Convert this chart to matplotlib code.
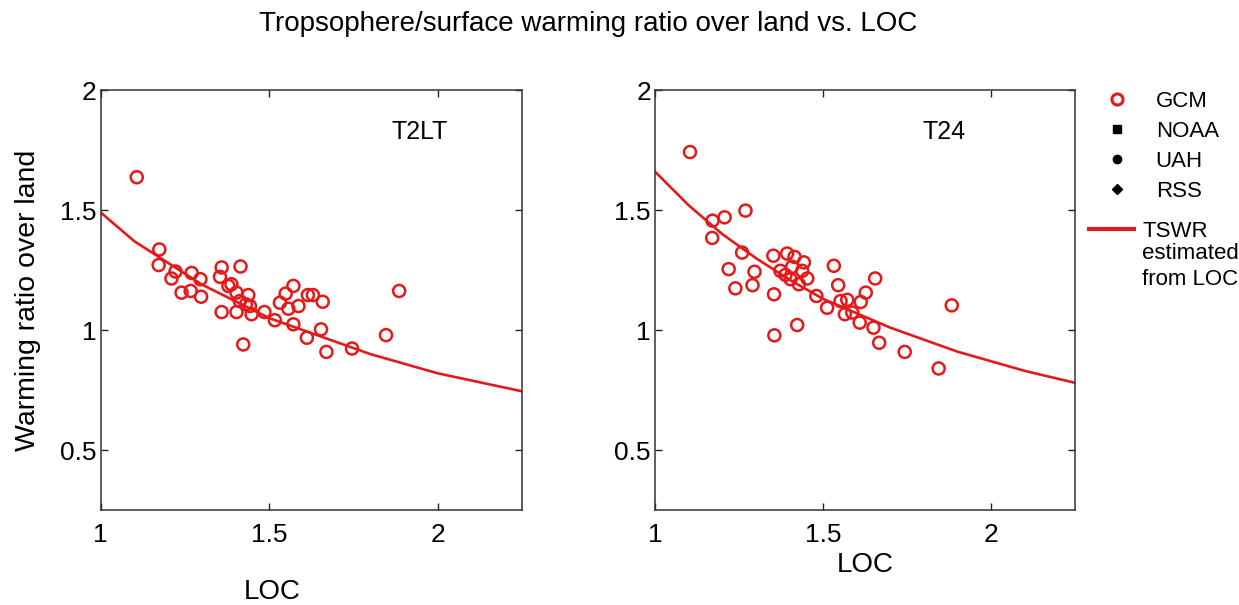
import matplotlib.pyplot as plt
from matplotlib.lines import Line2D

plt.rcParams['font.family'] = ['Liberation Sans', 'DejaVu Sans']

# GCM points, T2LT panel (LOC, warming ratio)
t2lt_loc = [1.107, 1.174, 1.172, 1.222, 1.210, 1.270, 1.296, 1.240, 1.267, 1.298,
            1.359, 1.354, 1.415, 1.379, 1.388, 1.403, 1.438, 1.413, 1.431, 1.443,
            1.359, 1.403, 1.448, 1.486, 1.517, 1.572, 1.423, 1.572, 1.549, 1.532,
            1.557, 1.587, 1.615, 1.630, 1.659, 1.612, 1.654, 1.670, 1.746, 1.847,
            1.886]
t2lt_ratio = [1.637, 1.336, 1.271, 1.244, 1.215, 1.238, 1.212, 1.156, 1.163, 1.139,
              1.261, 1.222, 1.265, 1.184, 1.191, 1.156, 1.146, 1.121, 1.107, 1.100,
              1.075, 1.075, 1.066, 1.075, 1.041, 1.024, 0.940, 1.184, 1.152, 1.114,
              1.089, 1.100, 1.146, 1.146, 1.118, 0.968, 1.003, 0.909, 0.923, 0.979,
              1.163]

# GCM points, T24 panel
t24_loc = [1.104, 1.171, 1.207, 1.269, 1.170, 1.259, 1.219, 1.296, 1.239, 1.290,
           1.352, 1.393, 1.415, 1.443, 1.408, 1.438, 1.373, 1.388, 1.403, 1.453,
           1.428, 1.354, 1.480, 1.532, 1.545, 1.512, 1.552, 1.572, 1.565, 1.587,
           1.612, 1.627, 1.655, 1.609, 1.650, 1.423, 1.355, 1.667, 1.743, 1.844,
           1.883]
t24_ratio = [1.742, 1.456, 1.470, 1.498, 1.384, 1.323, 1.254, 1.243, 1.174, 1.187,
             1.310, 1.319, 1.305, 1.282, 1.264, 1.247, 1.247, 1.230, 1.212, 1.215,
             1.191, 1.149, 1.142, 1.268, 1.187, 1.093, 1.121, 1.126, 1.066, 1.073,
             1.117, 1.156, 1.215, 1.031, 1.010, 1.021, 0.978, 0.947, 0.909, 0.840,
             1.103]

# TSWR estimated from LOC
curve_loc = [1.0, 1.1, 1.2, 1.3, 1.4, 1.5, 1.6, 1.7, 1.8, 1.9, 2.0, 2.1, 2.25]
curve_t2lt = [1.49, 1.37, 1.28, 1.19, 1.12, 1.05, 1.00, 0.95, 0.90, 0.86, 0.82, 0.79, 0.745]
curve_t24 = [1.66, 1.52, 1.40, 1.30, 1.21, 1.13, 1.07, 1.01, 0.96, 0.91, 0.87, 0.83, 0.78]

red = '#e41a1a'

fig = plt.figure(figsize=(12.39, 6.05), dpi=100)
ax1 = fig.add_axes([0.0813, 0.157, 0.3398, 0.694])
ax2 = fig.add_axes([0.5287, 0.157, 0.3390, 0.694])

panels = [(ax1, t2lt_loc, t2lt_ratio, curve_t2lt, 'T2LT', 1.946),
          (ax2, t24_loc, t24_ratio, curve_t24, 'T24', 1.86)]

for ax, xs, ys, cy, name, tx in panels:
    ax.plot(curve_loc, cy, color=red, lw=1.9, zorder=2)
    ax.scatter(xs, ys, s=75, facecolors='none', edgecolors=red, linewidths=1.8, zorder=3)
    ax.set_xlim(1, 2.25)
    ax.set_ylim(0.25, 2)
    ax.set_xticks([1, 1.5, 2])
    ax.set_xticklabels(['1', '1.5', '2'])
    ax.set_yticks([0.5, 1, 1.5, 2])
    ax.set_yticklabels(['0.5', '1', '1.5', '2'])
    ax.tick_params(direction='in', top=True, right=True, length=5, width=1,
                   labelsize=19, colors='#222222', labelcolor='black')
    ax.tick_params(axis='x', pad=9)
    ax.tick_params(axis='y', pad=3)
    for sp in ax.spines.values():
        sp.set_linewidth(1.1)
        sp.set_color('#333333')
    ax.text(tx, 1.825, name, fontsize=18, ha='center', va='center')
    ax.set_xlabel('LOC', fontsize=20)

ax1.xaxis.set_label_coords(0.407, -0.195)
ax1.xaxis.label.set_va('center')
ax2.xaxis.set_label_coords(0.5, -0.131)
ax2.xaxis.label.set_va('center')
ax1.set_ylabel('Warming ratio over land', fontsize=20.5)
ax1.yaxis.set_label_coords(-0.173, 0.5)
ax1.yaxis.label.set_va('center')

fig.suptitle('Tropsophere/surface warming ratio over land vs. LOC', fontsize=20,
             x=0.4746, y=0.982)

# legend: markers first, the model line in its own block below
mark_handles = [
    Line2D([], [], ls='none', marker='o', ms=8, mfc='none', mec=red, mew=2.2),
    Line2D([], [], ls='none', marker='s', ms=6, color='black'),
    Line2D([], [], ls='none', marker='o', ms=6, color='black'),
    Line2D([], [], ls='none', marker='D', ms=5, color='black'),
]
leg1 = fig.legend(mark_handles, ['GCM', 'NOAA', 'UAH', 'RSS'], loc='upper left',
                  bbox_to_anchor=(0.884, 0.850), frameon=False, fontsize=16,
                  handlelength=2.0, handletextpad=0.72, labelspacing=0.405,
                  borderaxespad=0, borderpad=0)
leg2 = fig.legend([Line2D([], [], color=red, lw=3)], ['TSWR'], loc='upper left',
                  bbox_to_anchor=(0.879, 0.635), frameon=False, fontsize=16,
                  handlelength=2.0, handletextpad=0.4, borderaxespad=0, borderpad=0)

# rest of the TSWR label sits under the legend text
fig.canvas.draw()
bb = leg2.get_texts()[0].get_window_extent().transformed(fig.transFigure.inverted())
fig.text(bb.x0, bb.y0 - 0.002, 'estimated\nfrom LOC', fontsize=16, ha='left', va='top',
         linespacing=1.3)

fig.savefig('out.png', dpi=100, facecolor='white')
